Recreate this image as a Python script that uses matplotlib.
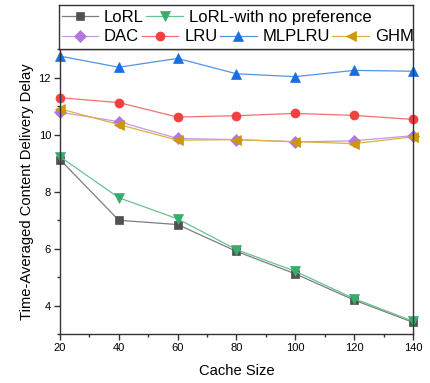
import matplotlib
matplotlib.use("Agg")
import matplotlib.pyplot as plt
from matplotlib.colors import to_rgb
from matplotlib.ticker import MultipleLocator

plt.rcParams['font.family'] = ['Liberation Sans', 'DejaVu Sans']

cache_size = [20, 40, 60, 80, 100, 120, 140]

lorl = [9.12, 6.99, 6.84, 5.90, 5.11, 4.19, 3.41]
lorl_no_pref = [9.22, 7.78, 7.04, 5.96, 5.20, 4.24, 3.45]
dac = [10.78, 10.45, 9.86, 9.82, 9.74, 9.78, 9.96]
lru = [11.29, 11.12, 10.61, 10.66, 10.74, 10.67, 10.53]
mlplru = [12.75, 12.36, 12.67, 12.13, 12.03, 12.25, 12.22]
ghm = [10.90, 10.35, 9.80, 9.82, 9.75, 9.68, 9.92]

series = [
    ("LoRL", lorl, '#515151', 's', 6),
    ("LoRL-with no preference", lorl_no_pref, '#37AD6B', 'v', 7.5),
    ("DAC", dac, '#B177DE', 'D', 6),
    ("LRU", lru, '#F14040', 'o', 6.5),
    ("MLPLRU", mlplru, '#1A6FDF', '^', 7.5),
    ("GHM", ghm, '#CC9900', '<', 7.5),
]


def lighten(c, amount=0.3):
    r, g, b = to_rgb(c)
    return (r + (1 - r) * amount, g + (1 - g) * amount, b + (1 - b) * amount)


fig = plt.figure(figsize=(4.31, 3.83), dpi=100)
ax = fig.add_axes([60 / 431, 1 - 334 / 383, 353 / 431, 285 / 383])

handles = []
for name, vals, col, mk, ms in series:
    h, = ax.plot(cache_size, vals, color=lighten(col, 0.25), lw=0.9,
                 marker=mk, markersize=ms, markerfacecolor=col,
                 markeredgecolor=col, markeredgewidth=0.5, label=name,
                 clip_on=False)
    handles.append(h)

ax.set_xlim(20, 140)
ax.set_ylim(3, 13)
ax.xaxis.set_major_locator(MultipleLocator(20))
ax.xaxis.set_minor_locator(MultipleLocator(10))
ax.yaxis.set_major_locator(MultipleLocator(2))
ax.yaxis.set_minor_locator(MultipleLocator(1))
ax.tick_params(which='both', direction='out', top=False, right=False,
               labelsize=8, color='#333333', width=1, pad=2.2)
ax.tick_params(which='major', length=4.3)
ax.tick_params(which='minor', length=2.5)
for s in ax.spines.values():
    s.set_color('#333333')
    s.set_linewidth(1.0)

ax.set_xlabel("Cache Size", fontsize=10.6, labelpad=8)
ax.set_ylabel("Time-Averaged Content Delivery Delay", fontsize=10.6, labelpad=3)

# legend panel above the axes
lax = fig.add_axes([59.5 / 431, 1 - 49 / 383, 353.5 / 431, 44 / 383])
lax.set_xticks([])
lax.set_yticks([])
for s in lax.spines.values():
    s.set_color('#333333')
    s.set_linewidth(1.0)

common = dict(frameon=False, fontsize=12, handlelength=2.2, handletextpad=0.35,
              columnspacing=0.15, borderpad=0, borderaxespad=0)
leg1 = lax.legend(handles[:2], [h.get_label() for h in handles[:2]], ncol=2,
                  loc='center left', bbox_to_anchor=(0.006, 0.727), **common)
lax.add_artist(leg1)
lax.legend(handles[2:], [h.get_label() for h in handles[2:]], ncol=4,
           loc='center left', bbox_to_anchor=(0.006, 0.273), **common)

fig.savefig("out.png", dpi=100)
